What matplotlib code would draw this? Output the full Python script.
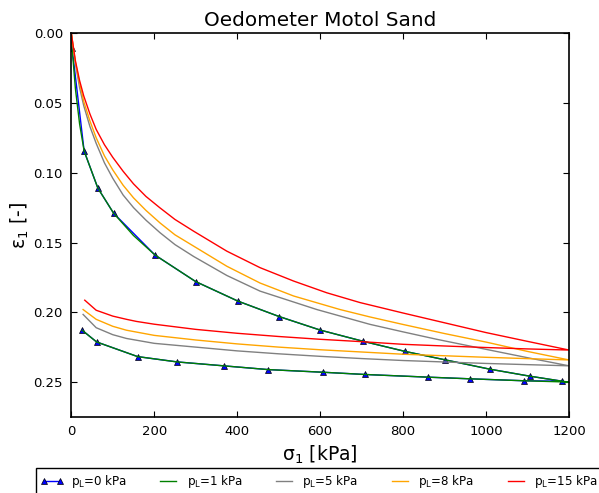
import matplotlib
matplotlib.use("Agg")
import matplotlib.pyplot as plt

# p_L = 0 kPa (measured points, blue triangles): loading then unloading
sigma_p0 = [2, 31, 64, 102, 202, 300, 402, 501, 600, 703, 805, 901, 1009, 1105, 1183,
            1092, 961, 859, 708, 607, 475, 367, 255, 160, 61, 26.5]
eps_p0 = [0.011, 0.0845, 0.111, 0.129, 0.159, 0.178, 0.192, 0.203, 0.2127, 0.2207,
          0.228, 0.234, 0.2407, 0.2457, 0.2493,
          0.249, 0.2476, 0.2464, 0.2445, 0.2429, 0.241, 0.2383, 0.2355, 0.2317,
          0.2212, 0.2129]

# p_L = 1 kPa
sigma_p1 = [0, 2, 10, 20, 31, 64, 102, 150, 202, 300, 402, 501, 600, 703, 805, 901,
            1009, 1105, 1183, 1200,
            1183, 1092, 961, 859, 708, 607, 475, 367, 255, 160, 61, 26.5]
eps_p1 = [0.0, 0.011, 0.040, 0.065, 0.0845, 0.111, 0.129, 0.145, 0.159, 0.178, 0.192,
          0.203, 0.2127, 0.2207, 0.228, 0.234, 0.2407, 0.2457, 0.2493, 0.250,
          0.2498, 0.249, 0.2476, 0.2464, 0.2445, 0.2429, 0.241, 0.2383, 0.2355,
          0.2317, 0.2212, 0.2129]

# p_L = 5 kPa
sigma_p5 = [0, 10, 20, 30, 45, 60, 80, 100, 125, 150, 180, 214, 250, 295, 375, 455,
            592, 720, 800, 881, 1000, 1100, 1200,
            1000, 800, 700, 600, 500, 400, 300, 200, 133, 100, 60, 28.5]
eps_p5 = [0.0, 0.022, 0.039, 0.052, 0.067, 0.079, 0.093, 0.104, 0.116, 0.125, 0.134,
          0.143, 0.1515, 0.160, 0.1736, 0.1848, 0.198, 0.2086, 0.2140, 0.2193,
          0.2265, 0.2325, 0.2383,
          0.2366, 0.2345, 0.2331, 0.2315, 0.2297, 0.2276, 0.2249, 0.2222, 0.2187,
          0.2160, 0.2110, 0.2015]

# p_L = 8 kPa
sigma_p8 = [0, 10, 20, 30, 45, 60, 80, 100, 125, 150, 180, 214, 250, 295, 375, 455,
            536, 648, 720, 800, 900, 1000, 1100, 1200,
            1000, 800, 700, 600, 500, 400, 300, 200, 133, 100, 60, 28.5]
eps_p8 = [0.0, 0.021, 0.036, 0.049, 0.063, 0.075, 0.088, 0.098, 0.109, 0.118, 0.127,
          0.136, 0.1445, 0.1526, 0.167, 0.179, 0.1883, 0.198, 0.2033, 0.2087,
          0.2152, 0.2213, 0.2280, 0.2341,
          0.2322, 0.2300, 0.2284, 0.2268, 0.2249, 0.2226, 0.2198, 0.2165, 0.2128,
          0.2100, 0.2050, 0.198]

# p_L = 15 kPa
sigma_p15 = [0, 10, 20, 30, 45, 60, 80, 100, 125, 150, 180, 213, 250, 295, 375, 455,
             536, 616, 696, 800, 900, 1000, 1100, 1200,
             1100, 1000, 900, 800, 700, 600, 500, 400, 300, 200, 157, 133, 100, 60, 32.5]
eps_p15 = [0.0, 0.020, 0.034, 0.045, 0.058, 0.069, 0.080, 0.089, 0.099, 0.108, 0.117,
           0.125, 0.1335, 0.1419, 0.1562, 0.168, 0.1776, 0.186, 0.193, 0.2005,
           0.2075, 0.2145, 0.2208, 0.227,
           0.2262, 0.2252, 0.2241, 0.2229, 0.2210, 0.2193, 0.2173, 0.2150, 0.2122,
           0.2085, 0.2065, 0.2050, 0.2027, 0.1985, 0.1913]

labels = [r'$\mathrm{p_L}$=0 kPa', r'$\mathrm{p_L}$=1 kPa', r'$\mathrm{p_L}$=5 kPa',
          r'$\mathrm{p_L}$=8 kPa', r'$\mathrm{p_L}$=15 kPa']

fig = plt.figure(figsize=(5.99, 4.93), dpi=100)
ax = fig.add_axes([0.119, 0.154, 0.831, 0.779])

ax.plot(sigma_p0, eps_p0, color='blue', lw=1, marker='^', ms=5,
        mfc='blue', mec='black', mew=0.5, label=labels[0])
ax.plot(sigma_p1, eps_p1, color='green', lw=1, label=labels[1])
ax.plot(sigma_p5, eps_p5, color='grey', lw=1, label=labels[2])
ax.plot(sigma_p8, eps_p8, color='orange', lw=1, label=labels[3])
ax.plot(sigma_p15, eps_p15, color='red', lw=1, label=labels[4])

ax.set_xlim(0, 1200)
ax.set_ylim(0.275, 0.0)
ax.set_xticks([0, 200, 400, 600, 800, 1000, 1200])
ax.set_yticks([0.0, 0.05, 0.10, 0.15, 0.20, 0.25])
ax.set_yticklabels(['0.00', '0.05', '0.10', '0.15', '0.20', '0.25'])
ax.tick_params(direction='in', top=True, right=True, length=4.5, width=0.8,
               labelsize=9.5, pad=6)
for sp in ax.spines.values():
    sp.set_linewidth(1.2)

ax.set_title('Oedometer Motol Sand', fontsize=14.4, pad=5)
ax.set_xlabel('σ$_1$ [kPa]', fontsize=13.5, labelpad=4)
ax.set_ylabel('ε$_1$ [-]', fontsize=13.5)
ax.yaxis.set_label_coords(-0.08, 0.5)

# legend sits below the axes and runs off the right edge, as in the original
leg = ax.legend(loc='upper left', bbox_to_anchor=(0.060, 0.050),
                bbox_transform=fig.transFigure, ncol=5, fontsize=8.6,
                numpoints=2, handlelength=1.9, handletextpad=0.6,
                columnspacing=2.5, fancybox=False, framealpha=1,
                borderaxespad=0, borderpad=0.4)
leg.get_frame().set_edgecolor('black')
leg.get_frame().set_linewidth(1.0)

fig.savefig('out.png', dpi=100)
